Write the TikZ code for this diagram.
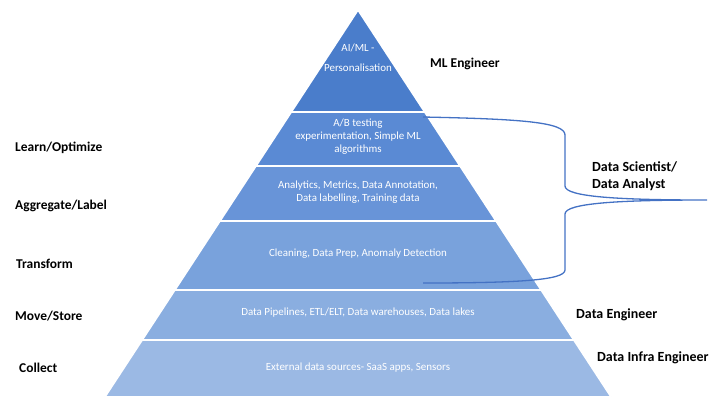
\documentclass[tikz,border=0pt]{standalone}
\usepackage{fontspec}
\setmainfont{Carlito}
\definecolor{cA}{HTML}{4A7DCB}
\definecolor{cB}{HTML}{5A8AD4}
\definecolor{cC}{HTML}{6894D8}
\definecolor{cD}{HTML}{79A2DC}
\definecolor{cE}{HTML}{8AAEE0}
\definecolor{cF}{HTML}{9BB9E4}
\definecolor{brace}{HTML}{4472C4}
\begin{document}
\begin{tikzpicture}[x=1bp,y=-1bp,
  layer/.style={draw=white,line width=1.6bp,line join=miter},
  intext/.style={text=white,font=\fontsize{11}{13}\selectfont,align=center,inner sep=0pt},
  leftlab/.style={anchor=west,font=\fontsize{13.5}{17}\selectfont\bfseries,inner sep=0pt},
  rightlab/.style={anchor=west,font=\fontsize{14}{17}\selectfont\bfseries,inner sep=0pt,align=left},
  bracepath/.style={draw=brace,line width=1.3bp}]
\useasboundingbox (0,0) rectangle (720,414);
% layers
\fill[cA,layer] (358,10) -- (424.7,112) -- (291.3,112) -- cycle;
\fill[cB,layer] (291.3,112) -- (424.7,112) -- (460,166) -- (256,166) -- cycle;
\fill[cC,layer] (256,166) -- (460,166) -- (496,221) -- (220,221) -- cycle;
\fill[cD,layer] (220,221) -- (496,221) -- (541.1,290) -- (174.9,290) -- cycle;
\fill[cE,layer] (174.9,290) -- (541.1,290) -- (573.8,340) -- (142.2,340) -- cycle;
\fill[cF,layer] (142.2,340) -- (573.8,340) -- (611.1,397) -- (104.9,397) -- cycle;
% inner texts
\node[intext,font=\fontsize{11}{20}\selectfont] (t1) at (358,58) {AI/ML -\\Personalisation};
\node[intext] (t2) at (358,137) {A/B testing\\experimentation, Simple ML\\algorithms};
\node[intext] (t3) at (358,192) {Analytics, Metrics, Data Annotation,\\Data labelling, Training data};
\node[intext] (t4) at (358,254) {Cleaning, Data Prep, Anomaly Detection};
\node[intext] (t5) at (358,313) {Data Pipelines, ETL/ELT, Data warehouses, Data lakes};
\node[intext] (t6) at (358,368) {External data sources- SaaS apps, Sensors};
% left labels
\node[leftlab] (l1) at (15,148) {Learn/Optimize};
\node[leftlab] (l2) at (15,206) {Aggregate/Label};
\node[leftlab] (l3) at (16,264) {Transform};
\node[leftlab] (l4) at (15,316) {Move/Store};
\node[leftlab] (l5) at (19,368) {Collect};
% right labels
\node[rightlab,font=\fontsize{13.5}{17}\selectfont\bfseries] (r1) at (430,64) {ML Engineer};
\node[rightlab] (r2) at (592,176) {Data Scientist/\\Data Analyst};
\node[rightlab] (r3) at (576,315) {Data Engineer};
\node[rightlab] (r4) at (597,358) {Data Infra Engineer};
% brace
\coordinate (bt) at (423,117);
\coordinate (btip) at (707,200);
\coordinate (bb) at (423,283);
\draw[bracepath] (bt) .. controls (520,119) and (565,122) .. (565,135) -- (565,186)
  .. controls (565,197) and (620,200) .. (btip)
  .. controls (620,200) and (565,203) .. (565,214) -- (565,270)
  .. controls (565,280) and (520,283) .. (bb);
\end{tikzpicture}
\end{document}
